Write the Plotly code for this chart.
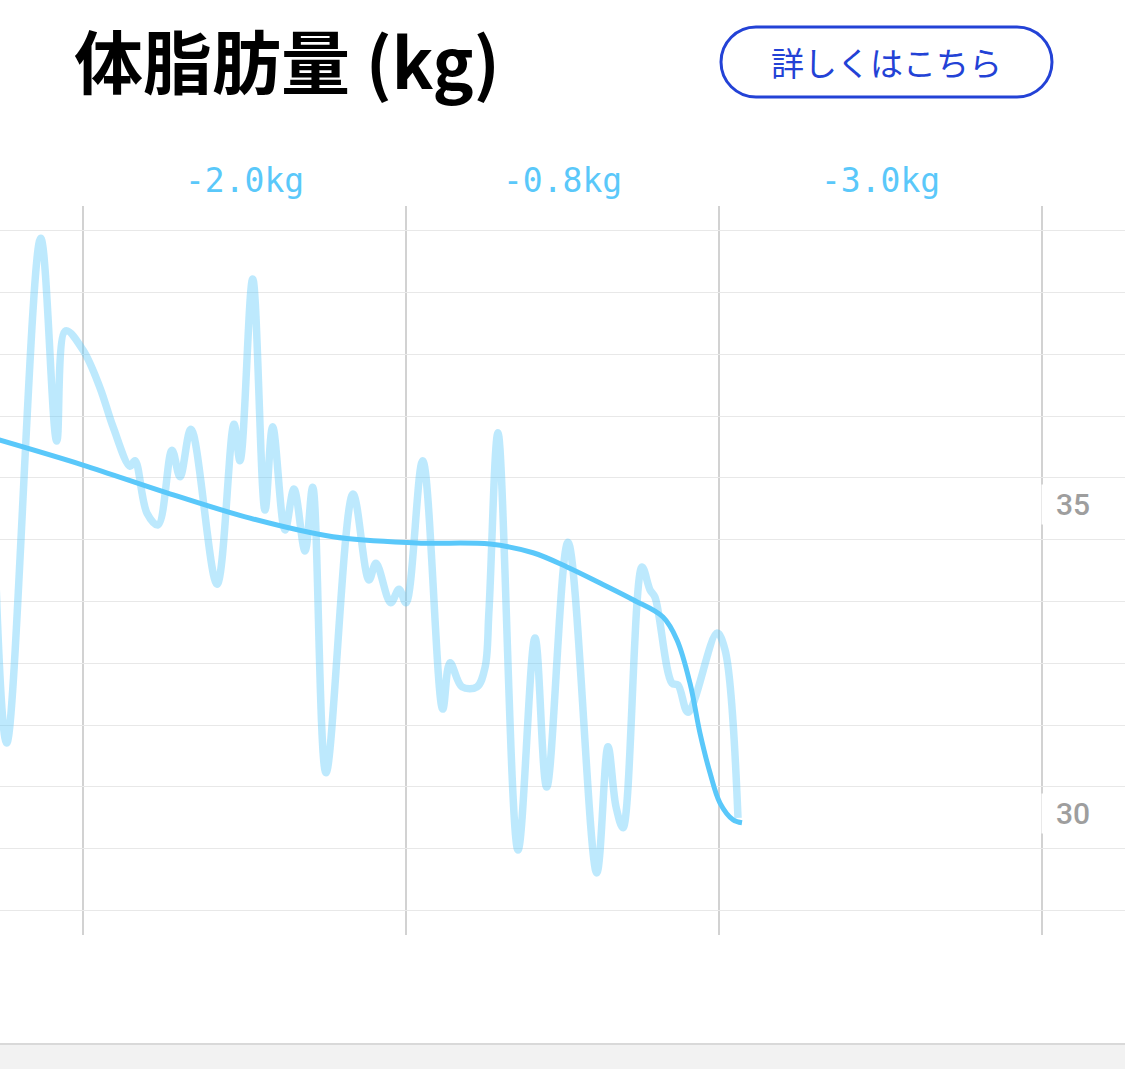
import plotly.graph_objects as go

# ---- data ----
raw_dates = [
    "2023-04-22 01:52", "2023-04-23 16:19", "2023-04-26 22:36", "2023-04-28 11:27",
    "2023-04-29 08:10", "2023-05-01 00:00", "2023-05-02 15:09", "2023-05-03 21:04",
    "2023-05-05 12:13", "2023-05-05 23:43", "2023-05-07 03:21", "2023-05-08 04:41",
    "2023-05-09 12:55", "2023-05-10 07:20", "2023-05-11 08:40", "2023-05-13 20:31",
    "2023-05-15 11:40", "2023-05-16 01:28", "2023-05-17 06:43", "2023-05-18 11:02",
    "2023-05-19 04:45", "2023-05-20 09:04", "2023-05-21 05:48", "2023-05-22 07:08",
    "2023-05-23 00:52", "2023-05-24 07:29", "2023-05-26 21:39", "2023-05-28 10:29",
    "2023-05-29 02:36", "2023-05-30 12:26", "2023-05-31 07:33", "2023-05-31 23:40",
    "2023-06-02 14:07", "2023-06-04 12:10", "2023-06-05 04:58", "2023-06-06 08:35",
    "2023-06-07 19:08", "2023-06-08 13:33", "2023-06-08 22:45", "2023-06-09 19:29",
    "2023-06-11 17:33", "2023-06-13 08:41", "2023-06-14 11:37", "2023-06-16 12:39",
    "2023-06-19 06:45", "2023-06-20 08:46", "2023-06-21 03:10", "2023-06-21 19:18",
    "2023-06-23 15:03", "2023-06-24 09:27", "2023-06-24 20:57", "2023-06-26 12:06",
    "2023-06-27 01:55", "2023-06-28 00:56", "2023-06-30 19:42", "2023-07-01 14:08",
    "2023-07-02 20:04",
]
raw_values = [
    36.59, 30.71, 38.88, 35.60,
    37.38, 37.07, 36.46, 35.83,
    35.19, 35.28, 34.43, 34.24,
    35.45, 35.02, 35.79, 33.28,
    35.87, 35.28, 38.22, 34.48,
    35.83, 34.16, 34.82, 33.82,
    34.85, 30.23, 34.74, 33.35,
    33.62, 32.98, 33.20, 32.98,
    35.28, 31.26, 32.01, 31.62,
    31.62, 31.93, 32.86, 35.73,
    28.98, 32.41, 30.00, 33.96,
    28.61, 30.65, 29.68, 29.34,
    33.56, 33.19, 33.07, 31.68,
    31.65, 31.21, 32.49, 32.22,
    29.50,
]

trend_dates = [
    "2023-04-22 01:52", "2023-05-01 00:00", "2023-05-09 01:24", "2023-05-17 00:30",
    "2023-05-24 23:36", "2023-06-02 01:00", "2023-06-09 01:05", "2023-06-13 04:05",
    "2023-06-16 10:22", "2023-06-19 14:20", "2023-06-22 18:19", "2023-06-25 15:23",
    "2023-06-26 23:37", "2023-06-28 05:33", "2023-06-29 04:34", "2023-06-30 03:36",
    "2023-07-01 02:37", "2023-07-02 08:33", "2023-07-03 05:17",
]
trend_values = [
    35.66, 35.21, 34.76, 34.35,
    34.05, 33.95, 33.93, 33.79,
    33.56, 33.30, 33.03, 32.75,
    32.38, 31.68, 30.87, 30.23,
    29.74, 29.47, 29.42,
]

month_centers = ["2023-05-16 12:00", "2023-06-16 00:00", "2023-07-16 12:00"]
month_changes = ["-2.0kg", "-0.8kg", "-3.0kg"]

y_label_values = [35, 30]
y_label_texts = ["35", "30"]

title_text = "体脂肪量 (kg)"
button_text = "詳しくはこちら"

# ---- figure ----
W, H = 1125, 1069
top, bottom = 206, 935
ph = bottom - top

def py(px):
    return (bottom - px) / ph

ACCENT = "#5ac8fa"
BLUE = "#2342d6"

fig = go.Figure()
fig.add_trace(go.Scatter(
    x=raw_dates, y=raw_values, mode="lines",
    line=dict(color="rgba(90,200,250,0.4)", width=7.5, shape="spline", smoothing=1.0),
    hoverinfo="skip", showlegend=False,
))
fig.add_trace(go.Scatter(
    x=trend_dates, y=trend_values, mode="lines",
    line=dict(color=ACCENT, width=5, shape="spline", smoothing=1.0),
    hoverinfo="skip", showlegend=False,
))

annotations = []
annotations.append(dict(
    text=title_text, xref="paper", yref="paper", x=72 / W, y=py(59),
    xanchor="left", yanchor="middle", showarrow=False,
    font=dict(family="Noto Sans CJK JP", size=69, color="#000000", weight=700),
))
annotations.append(dict(
    text=button_text, xref="paper", yref="paper", x=886.5 / W, y=py(62),
    xanchor="center", yanchor="middle", showarrow=False,
    font=dict(family="Noto Sans CJK JP", size=33, color=BLUE),
))
for d, t in zip(month_centers, month_changes):
    annotations.append(dict(
        text=t, xref="x", yref="paper", x=d, y=py(180),
        xanchor="center", yanchor="middle", showarrow=False,
        font=dict(family="DejaVu Sans Mono", size=33, color=ACCENT),
    ))
for v, t in zip(y_label_values, y_label_texts):
    annotations.append(dict(
        text=t, xref="paper", yref="y", x=1041 / W, y=v,
        xanchor="left", yanchor="middle", yshift=-27, showarrow=False,
        bgcolor="#ffffff", borderpad=2, width=46, align="right",
        font=dict(family="Roboto", size=30, color="#9e9e9e", weight=500),
    ))

k = 0.5523 * 35
hw = 165.5
r = 35
path = (f"M {-hw + r},{-r} L {hw - r},{-r} "
        f"C {hw - r + k},{-r} {hw},{-k} {hw},0 "
        f"C {hw},{k} {hw - r + k},{r} {hw - r},{r} "
        f"L {-hw + r},{r} "
        f"C {-hw + r - k},{r} {-hw},{k} {-hw},0 "
        f"C {-hw},{-k} {-hw + r - k},{-r} {-hw + r},{-r} Z")

shapes = [
    dict(type="path", xref="paper", yref="paper",
         xsizemode="pixel", ysizemode="pixel",
         xanchor=886.5 / W, yanchor=py(62), path=path,
         line=dict(color=BLUE, width=3), fillcolor="rgba(0,0,0,0)"),
    dict(type="rect", xref="paper", yref="paper",
         x0=0, x1=1, y0=py(1069), y1=py(1044),
         line=dict(width=0), fillcolor="#f2f2f2", layer="below"),
    dict(type="line", xref="paper", yref="paper",
         x0=0, x1=1, y0=py(1044), y1=py(1044),
         line=dict(color="#d9d9d9", width=2)),
]

fig.update_layout(
    width=W, height=H,
    margin=dict(l=0, r=0, t=top, b=H - bottom, pad=0),
    paper_bgcolor="#ffffff", plot_bgcolor="#ffffff",
    annotations=annotations, shapes=shapes,
    xaxis=dict(
        type="date", range=["2023-04-23 00:55", "2023-08-08 23:05"],
        showgrid=True, gridcolor="#d2d2d2", gridwidth=1.5,
        dtick="M1", tick0="2023-05-01", ticks="", showticklabels=False,
        zeroline=False, showline=False, fixedrange=True,
    ),
    yaxis=dict(
        range=[27.605, 39.401], dtick=1, tick0=0,
        showgrid=True, gridcolor="#e8e8e8", gridwidth=1.2,
        showticklabels=False, ticks="", zeroline=False, showline=False,
        fixedrange=True,
    ),
)

fig.write_html("out.html", config={"displayModeBar": False},
               post_script="document.body.style.margin='0px';document.body.style.overflow='hidden';")
